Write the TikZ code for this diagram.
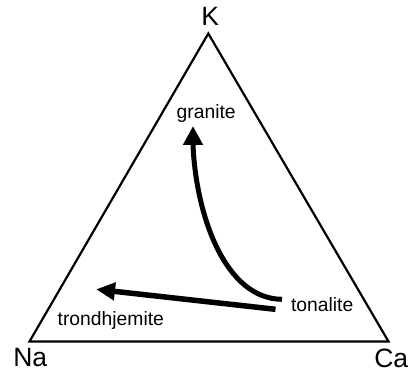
\documentclass[tikz,border=0pt]{standalone}
\usepackage{fontspec}
\setmainfont{Liberation Sans}
\usetikzlibrary{arrows.meta}
\begin{document}
\begin{tikzpicture}[x=1pt,y=-1pt,
  vlabel/.style={font=\fontsize{26.5}{30}\selectfont,inner sep=0pt,anchor=base},
  rlabel/.style={font=\fontsize{19.3}{22}\selectfont,inner sep=0pt,anchor=base},
  trend/.style={line width=5pt,-{Triangle[length=19pt,width=19pt]}},
  edge/.style={line width=2.2pt,line join=miter}]
\useasboundingbox (0,0) rectangle (415,377);
\coordinate (K) at (208.3,33.5);
\coordinate (Na) at (29.5,341.5);
\coordinate (Ca) at (388.5,341.5);
\draw[edge] (K) -- (Na) -- (Ca) -- cycle;
\node[vlabel] (kl) at (210.3,26) {K};
\node[vlabel] (nal) at (30.3,366.7) {Na};
\node[vlabel] (cal) at (391.3,367.7) {Ca};
\node[rlabel] (gr) at (206.2,118.3) {granite};
\node[rlabel] (to) at (322.2,311) {tonalite};
\node[rlabel] (tr) at (110.8,325) {trondhjemite};
\coordinate (cs) at (282,299.3);
\coordinate (ce) at (193,145);
\coordinate (ct) at (193,126);
\coordinate (ss) at (275.5,309.3);
\coordinate (st) at (96,289.3);
\draw[trend] (cs) .. controls (225,299) and (196,215) .. (ce) -- (ct);
\draw[line width=5.5pt,-{Triangle[length=19pt,width=17pt]}] (ss) -- (st);
\end{tikzpicture}
\end{document}
